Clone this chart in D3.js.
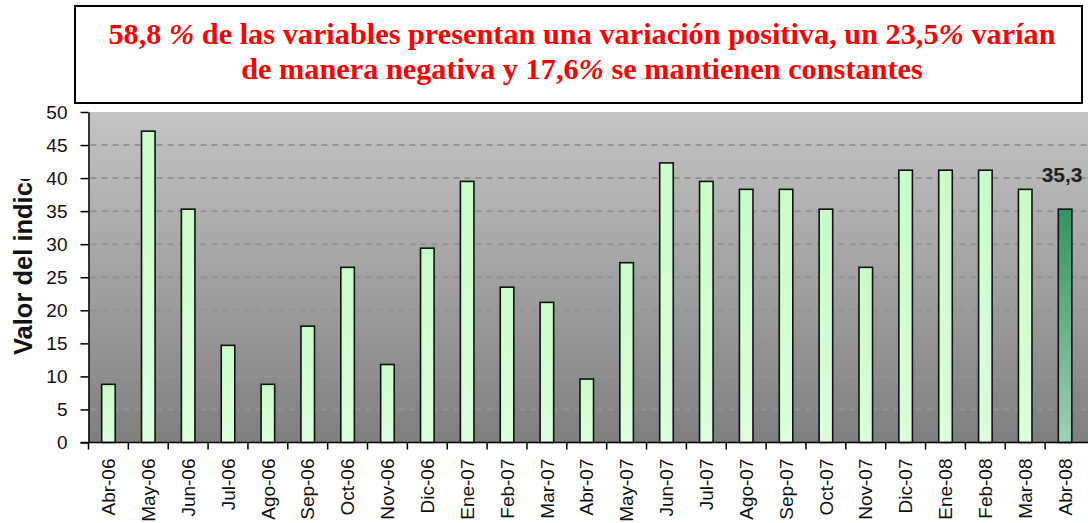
<!DOCTYPE html>
<html>
<head>
<meta charset="utf-8">
<script src="https://cdn.jsdelivr.net/npm/d3@7"></script>
<style>
    body { margin: 0; background: #fff; }
    #chart { width: 1088px; height: 523px; overflow: hidden; }
</style>
</head>
<body>
<div id="chart"></div>
<script>
// Datos del indice
const meses = ["Abr-06", "May-06", "Jun-06", "Jul-06", "Ago-06", "Sep-06", "Oct-06", "Nov-06", "Dic-06",
    "Ene-07", "Feb-07", "Mar-07", "Abr-07", "May-07", "Jun-07", "Jul-07", "Ago-07", "Sep-07", "Oct-07",
    "Nov-07", "Dic-07", "Ene-08", "Feb-08", "Mar-08", "Abr-08"];
const valores = [8.8, 47.1, 35.3, 14.7, 8.8, 17.6, 26.5, 11.8, 29.4,
    39.5, 23.5, 21.2, 9.6, 27.2, 42.3, 39.5, 38.3, 38.3, 35.3,
    26.5, 41.2, 41.2, 41.2, 38.3, 35.3];
const ticksY = [0, 5, 10, 15, 20, 25, 30, 35, 40, 45, 50];
const tituloLineas = [
    ["58,8 ", "%", " de las variables presentan una variación positiva, un 23,5", "%", " varían"],
    ["de manera negativa y 17,6", "%", " se mantienen constantes"]
];
const ejeY = "Valor del indice";
const ultimoIdx = valores.length - 1;

function dibujar() {
    // 1. Dimensiones
    const width = 1088;
    const height = 523;
    const left = 88.5;
    const right = 1085;
    const top = 112;
    const bottom = 442.5;

    const svg = d3.select("#chart")
        .append("svg")
        .attr("width", width)
        .attr("height", height)
        .style("font-family", "'Liberation Sans', Arial, sans-serif");

    const defs = svg.append("defs");

    // 2. Degradados
    const fondo = defs.append("linearGradient").attr("id", "fondo")
        .attr("x1", 0).attr("y1", 0).attr("x2", 0).attr("y2", 1);
    fondo.append("stop").attr("offset", "0%").attr("stop-color", "#c4c4c4");
    fondo.append("stop").attr("offset", "100%").attr("stop-color", "#7f7f7f");

    const barra = defs.append("linearGradient").attr("id", "barra")
        .attr("x1", 0).attr("y1", 0).attr("x2", 0).attr("y2", 1);
    barra.append("stop").attr("offset", "0%").attr("stop-color", "#c8fcc8");
    barra.append("stop").attr("offset", "100%").attr("stop-color", "#dcfedc");

    const barraUlt = defs.append("linearGradient").attr("id", "barraUlt")
        .attr("x1", 0).attr("y1", 0).attr("x2", 0).attr("y2", 1);
    barraUlt.append("stop").attr("offset", "0%").attr("stop-color", "#2f9461");
    barraUlt.append("stop").attr("offset", "100%").attr("stop-color", "#9dd0b5");

    // recorte del titulo del eje (coordenadas de la pagina)
    defs.append("clipPath").attr("id", "clipTitulo")
        .append("rect").attr("x", 0).attr("y", 179).attr("width", 60).attr("height", 300);

    // 3. Escalas
    const x = d3.scaleBand()
        .domain(meses)
        .range([left, right])
        .padding(0);

    const y = d3.scaleLinear()
        .domain([0, 50])
        .range([bottom, top]);

    // 4. Fondo del area de trazado
    svg.append("rect")
        .attr("x", left)
        .attr("y", y(50))
        .attr("width", width - left)
        .attr("height", y(0) - y(50))
        .attr("fill", "url(#fondo)");

    // lineas de division
    svg.append("g")
        .selectAll("line")
        .data(ticksY.filter(t => t > 0 && t < 50))
        .join("line")
        .attr("x1", left + 2)
        .attr("x2", width)
        .attr("y1", d => y(d))
        .attr("y2", d => y(d))
        .attr("stroke", "#939393")
        .attr("stroke-width", 2)
        .attr("stroke-dasharray", "6,5");

    // 5. Barras
    const bw = x.bandwidth() * 0.34;
    svg.append("g")
        .selectAll("rect")
        .data(valores)
        .join("rect")
        .attr("x", (d, i) => x(meses[i]) + (x.bandwidth() - bw) / 2)
        .attr("y", d => y(d))
        .attr("width", bw)
        .attr("height", d => y(0) - y(d))
        .attr("fill", (d, i) => i === ultimoIdx ? "url(#barraUlt)" : "url(#barra)")
        .attr("stroke", "#111")
        .attr("stroke-width", 1.6);

    // etiqueta del ultimo valor
    svg.append("text")
        .attr("x", x(meses[ultimoIdx]) + x.bandwidth() / 2 - 3)
        .attr("y", y(valores[ultimoIdx]) - 27)
        .attr("text-anchor", "middle")
        .attr("font-size", 21)
        .attr("font-weight", "bold")
        .attr("fill", "#222")
        .text(String(valores[ultimoIdx]).replace(".", ","));

    // 6. Ejes
    const gy = svg.append("g")
        .attr("transform", `translate(${left},0)`)
        .call(d3.axisLeft(y).tickValues(ticksY).tickSize(8).tickPadding(13).tickSizeOuter(0));
    gy.select(".domain").attr("stroke", "#000").attr("stroke-width", 1.5);
    gy.selectAll(".tick line").attr("stroke", "#000").attr("stroke-width", 1.5);
    gy.selectAll(".tick text")
        .attr("font-size", 19)
        .attr("font-family", "'Liberation Sans', Arial, sans-serif")
        .attr("fill", "#111");

    const gx = svg.append("g")
        .attr("transform", `translate(0,${bottom})`)
        .call(d3.axisBottom(x).tickSize(0).tickSizeOuter(0));
    gx.select(".domain").remove();
    gx.append("line")
        .attr("x1", left - 8).attr("x2", width)
        .attr("stroke", "#000").attr("stroke-width", 1.5);
    // marcas entre categorias
    gx.selectAll(".sep")
        .data(meses)
        .join("line")
        .attr("class", "sep")
        .attr("x1", d => x(d)).attr("x2", d => x(d))
        .attr("y1", 0).attr("y2", 7)
        .attr("stroke", "#000").attr("stroke-width", 1.5);
    gx.selectAll(".tick text")
        .attr("font-size", 19)
        .attr("font-family", "'Liberation Sans', Arial, sans-serif")
        .attr("fill", "#111")
        .attr("text-anchor", "end")
        .attr("transform", "rotate(-90)")
        .attr("x", -16)
        .attr("y", 0)
        .attr("dy", "0.35em");

    // titulo del eje Y (recortado como en el original)
    svg.append("g")
        .attr("clip-path", "url(#clipTitulo)")
        .append("text")
        .attr("transform", "translate(32,355) rotate(-90)")
        .attr("font-size", 25.5)
        .attr("font-weight", "bold")
        .attr("fill", "#111")
        .text(ejeY);

    // 7. Cuadro del titulo
    svg.append("rect")
        .attr("x", 75)
        .attr("y", 6)
        .attr("width", 1007)
        .attr("height", 97)
        .attr("fill", "#fff")
        .attr("stroke", "#000")
        .attr("stroke-width", 2);

    const t = svg.append("text")
        .attr("text-anchor", "middle")
        .attr("font-family", "'Liberation Serif', 'Times New Roman', serif")
        .attr("font-weight", "bold")
        .attr("font-size", 30.3)
        .attr("fill", "#ff0000");
    tituloLineas.forEach((linea, i) => {
        const l = t.append("tspan")
            .attr("x", 582)
            .attr("y", 44 + i * 35);
        linea.forEach(parte => {
            l.append("tspan")
                .attr("font-style", parte === "%" ? "italic" : "normal")
                .text(parte);
        });
    });
}

dibujar();
</script>
</body>
</html>
